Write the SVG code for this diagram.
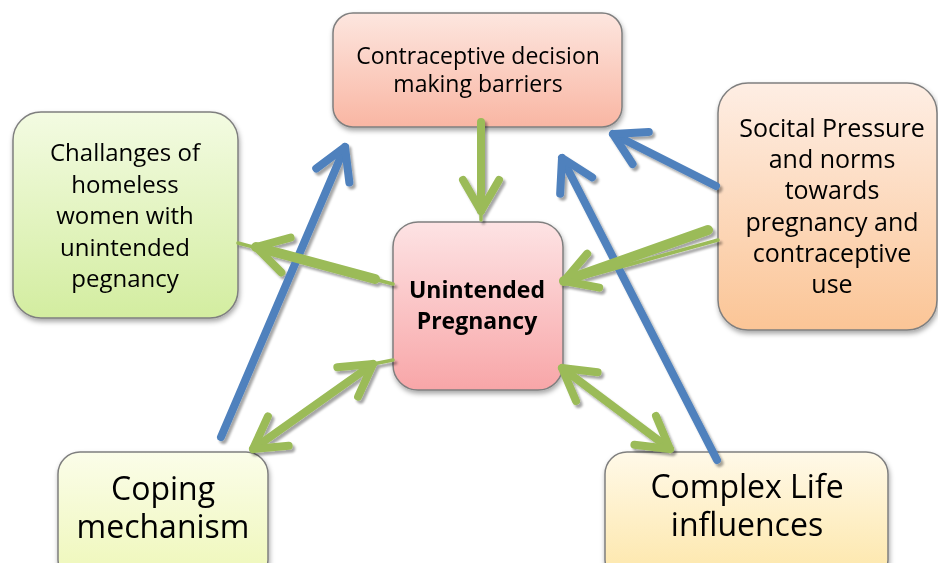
<svg xmlns="http://www.w3.org/2000/svg" width="938" height="563" viewBox="0 0 938 563">
<style>
.box{stroke:#7f7f7f;stroke-width:1.5}
.t{font-family:"Open Sans","Liberation Sans",sans-serif;fill:#000;text-anchor:middle}
.b{font-weight:bold}
.blue{fill:none;stroke:#4f81bd;stroke-width:8;stroke-linecap:round}
.green{fill:none;stroke:#9bbb59;stroke-width:8;stroke-linecap:round}
.thin{fill:none;stroke:#9bbb59;stroke-width:3.5;stroke-linecap:round}
</style>
<defs>
<filter id="nsh" x="-20%" y="-20%" width="140%" height="140%">
<feDropShadow dx="1" dy="3" stdDeviation="2.5" flood-color="#000" flood-opacity="0.35"/>
</filter>
<filter id="ash" x="-20%" y="-20%" width="140%" height="140%">
<feDropShadow dx="2.5" dy="3" stdDeviation="1" flood-color="#000" flood-opacity="0.35"/>
</filter>
<linearGradient id="gTop" x1="0" y1="0" x2="0" y2="1"><stop offset="0" stop-color="#fde6df"/><stop offset="1" stop-color="#f9b6a3"/></linearGradient>
<linearGradient id="gLeft" x1="0" y1="0" x2="0" y2="1"><stop offset="0" stop-color="#f3fbe2"/><stop offset="1" stop-color="#d3eda0"/></linearGradient>
<linearGradient id="gRight" x1="0" y1="0" x2="0" y2="1"><stop offset="0" stop-color="#feeee4"/><stop offset="1" stop-color="#fbc596"/></linearGradient>
<linearGradient id="gCenter" x1="0" y1="0" x2="0" y2="1"><stop offset="0" stop-color="#fde3e4"/><stop offset="1" stop-color="#f8a6a8"/></linearGradient>
<linearGradient id="gCope" x1="0" y1="0" x2="0" y2="1"><stop offset="0" stop-color="#fbfde9"/><stop offset="1" stop-color="#eef7b8"/></linearGradient>
<linearGradient id="gLife" x1="0" y1="0" x2="0" y2="1"><stop offset="0" stop-color="#fff9e8"/><stop offset="1" stop-color="#fde6a8"/></linearGradient>
<marker id="hg" markerUnits="userSpaceOnUse" viewBox="-40 -25 50 50" markerWidth="50" markerHeight="50" refX="0" refY="0" orient="auto-start-reverse" overflow="visible">
<path d="M-31,-18 L0,0 L-31,18" fill="none" stroke="#9bbb59" stroke-width="8" stroke-linecap="round" stroke-linejoin="round"/>
</marker>
<marker id="hb" markerUnits="userSpaceOnUse" viewBox="-40 -25 50 50" markerWidth="50" markerHeight="50" refX="0" refY="0" orient="auto-start-reverse" overflow="visible">
<path d="M-31,-18 L0,0 L-31,18" fill="none" stroke="#4f81bd" stroke-width="8" stroke-linecap="round" stroke-linejoin="round"/>
</marker>
</defs>
<rect width="938" height="563" fill="#fff"/>

<g id="n-top" filter="url(#nsh)">
<rect class="box" x="333" y="13" width="289" height="114" rx="20" fill="url(#gTop)"/>
<text class="t" font-size="23"><tspan x="478" y="64">Contraceptive decision</tspan><tspan x="478" dy="28">making barriers</tspan></text>
</g>
<g id="n-left" filter="url(#nsh)">
<rect class="box" x="13" y="112" width="225" height="206" rx="28" fill="url(#gLeft)"/>
<text class="t" font-size="24"><tspan x="125" y="161">Challanges of</tspan><tspan x="125" dy="31.5">homeless</tspan><tspan x="125" dy="31.5">women with</tspan><tspan x="125" dy="31.5">unintended</tspan><tspan x="125" dy="31.5">pegnancy</tspan></text>
</g>
<g id="n-right" filter="url(#nsh)">
<rect class="box" x="718" y="83" width="219" height="247" rx="30" fill="url(#gRight)"/>
<text class="t" font-size="25"><tspan x="832" y="137">Socital Pressure</tspan><tspan x="832" dy="31.2">and norms</tspan><tspan x="832" dy="31.2">towards</tspan><tspan x="832" dy="31.2">pregnancy and</tspan><tspan x="832" dy="31.2">contraceptive</tspan><tspan x="832" dy="31.2">use</tspan></text>
</g>
<g id="n-center" filter="url(#nsh)">
<rect class="box" x="393" y="222" width="170" height="168" rx="25" fill="url(#gCenter)"/>
<text class="t b" font-size="23"><tspan x="477" y="298">Unintended</tspan><tspan x="477" dy="31">Pregnancy</tspan></text>
</g>
<g id="n-cope" filter="url(#nsh)">
<rect class="box" x="58" y="452" width="210" height="130" rx="22" fill="url(#gCope)"/>
<text class="t" font-size="32"><tspan x="163" y="500">Coping</tspan><tspan x="163" dy="38">mechanism</tspan></text>
</g>
<g id="n-life" filter="url(#nsh)">
<rect class="box" x="605" y="452" width="283" height="130" rx="22" fill="url(#gLife)"/>
<text class="t" font-size="32"><tspan x="747" y="498">Complex Life</tspan><tspan x="747" dy="38">influences</tspan></text>
</g>

<g id="connectors" filter="url(#ash)">
<path class="blue" d="M221,437 L345,147" marker-end="url(#hb)"/>
<path class="blue" d="M717,460 L562,158" marker-end="url(#hb)"/>
<path class="blue" d="M716,186 L613,134" marker-end="url(#hb)"/>
<path class="thin" d="M481,212 L481,220"/>
<path class="green" d="M481,122 L481,211" marker-end="url(#hg)"/>
<path class="thin" d="M393,284 L238,243"/>
<path class="green" d="M375,279 L256,247" marker-end="url(#hg)" style="stroke-width:10"/>
<path class="thin" d="M718,240 L563,283"/>
<path class="green" d="M708,230 L564,281" marker-end="url(#hg)" style="stroke-width:10"/>
<path class="thin" d="M373,364 L393,360"/>
<path class="green" d="M253,449 L373,364" marker-start="url(#hg)" marker-end="url(#hg)"/>
<path class="green" d="M562,368 L670,449" marker-start="url(#hg)" marker-end="url(#hg)"/>
</g>
</svg>
